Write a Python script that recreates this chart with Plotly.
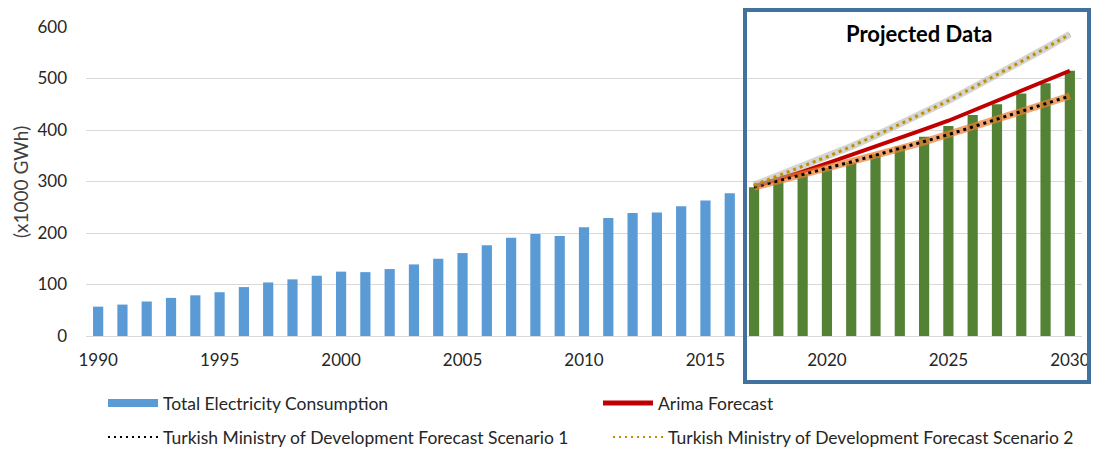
import plotly.graph_objects as go

# Historical consumption, 1990-2016 (x1000 GWh)
hist_years = list(range(1990, 2017))
hist_values = [57, 61, 67, 74, 79, 85, 95, 104, 110, 117, 125, 124, 130,
               139, 150, 161, 176, 191, 198, 194, 211, 229, 239, 240, 252, 263, 277]

# Projected period, 2017-2030
proj_years = list(range(2017, 2031))
proj_values = [289, 300, 315, 326, 337, 353, 368, 387, 408, 429, 450, 471, 491, 515]
arima_values = [290, 304, 319, 335, 351, 367, 384, 401, 418, 437, 457, 476, 495, 515]
scenario1_values = [289, 301, 313, 326, 338, 351, 364, 377, 391, 406, 421, 436, 451, 466]
scenario2_values = [293, 311, 329, 348, 368, 389, 411, 434, 457, 482, 507, 533, 559, 586]

x_ticks = [1990, 1995, 2000, 2005, 2010, 2015, 2020, 2025, 2030]

FONT = "Lato, Carlito, 'Open Sans', sans-serif"
BLUE = "#5B9BD5"
GREEN = "#548235"
RED = "#C00000"
GOLD = "#BF9000"
FRAME = "#41719C"
TEXT = "#262626"

fig = go.Figure()

fig.add_trace(go.Bar(x=hist_years, y=hist_values, marker_color=BLUE,
                     marker_line_width=0, width=0.42, showlegend=False))
fig.add_trace(go.Bar(x=proj_years, y=proj_values, marker_color=GREEN,
                     marker_line_width=0, width=0.42, showlegend=False))

fig.add_trace(go.Scatter(x=proj_years, y=arima_values, mode="lines",
                         line=dict(color=RED, width=4), showlegend=False))

# Scenario 1: black dots over a soft orange glow
fig.add_trace(go.Scatter(x=proj_years, y=scenario1_values, mode="lines",
                         line=dict(color="rgba(237,125,49,0.7)", width=7),
                         showlegend=False, hoverinfo="skip"))
fig.add_trace(go.Scatter(x=proj_years, y=scenario1_values, mode="lines",
                         line=dict(color="#000000", width=3, dash="3px,4px"),
                         showlegend=False))

# Scenario 2: gold dots over a soft grey glow
fig.add_trace(go.Scatter(x=proj_years, y=scenario2_values, mode="lines",
                         line=dict(color="rgba(160,160,150,0.45)", width=7),
                         showlegend=False, hoverinfo="skip"))
fig.add_trace(go.Scatter(x=proj_years, y=scenario2_values, mode="lines",
                         line=dict(color=GOLD, width=3, dash="3px,4px"),
                         showlegend=False))

# Legend entries, one legend box each so they sit in two aligned columns
fig.add_trace(go.Scatter(x=[None], y=[None], mode="lines", name="Total Electricity Consumption",
                         line=dict(color=BLUE, width=8), legend="legend"))
fig.add_trace(go.Scatter(x=[None], y=[None], mode="lines", name="Arima Forecast",
                         line=dict(color=RED, width=5), legend="legend2"))
fig.add_trace(go.Scatter(x=[None], y=[None], mode="lines",
                         name="Turkish Ministry of Development Forecast Scenario 1",
                         line=dict(color="#000000", width=2, dash="2px,4px"), legend="legend3"))
fig.add_trace(go.Scatter(x=[None], y=[None], mode="lines",
                         name="Turkish Ministry of Development Forecast Scenario 2",
                         line=dict(color=GOLD, width=2, dash="2px,4px"), legend="legend4"))

W, H = 1095, 453
legend_font = dict(family=FONT, size=17.5, color=TEXT)


def legend_at(px, py):
    return dict(x=px / W, y=1 - py / H, xref="container", yref="container",
                xanchor="left", yanchor="middle", font=legend_font,
                bgcolor="rgba(0,0,0,0)", borderwidth=0, itemwidth=50)


PL, PR, PT, PB = 86, 13, 27, 117
pw, ph = W - PL - PR, H - PT - PB


def px_x(x):
    return (x - PL) / pw


def px_y(y):
    return (H - PB - y) / ph


fig.update_layout(
    width=W, height=H,
    margin=dict(l=PL, r=PR, t=PT, b=PB, autoexpand=False),
    paper_bgcolor="white", plot_bgcolor="white",
    barmode="overlay",
    font=dict(family=FONT, size=17, color=TEXT),
    xaxis=dict(range=[1989.5, 2030.5], tickvals=x_ticks, showgrid=False,
               showline=True, linecolor="#D9D9D9", linewidth=1, ticks="",
               zeroline=False, tickangle=0, automargin=False, ticklabelstandoff=9,
               tickfont=dict(size=17, color=TEXT)),
    yaxis=dict(range=[0, 600], dtick=100, showgrid=True, gridcolor="#D9D9D9",
               gridwidth=1, zeroline=False, ticks="", ticklabelstandoff=18,
               automargin=False, tickfont=dict(size=17, color=TEXT)),
    legend=legend_at(103, 403),
    legend2=legend_at(598, 403),
    legend3=legend_at(103, 437),
    legend4=legend_at(608, 437),
    annotations=[
        dict(text="(x1000 GWh)", x=px_x(21), y=px_y(182), xref="paper", yref="paper",
             xanchor="center", yanchor="middle", showarrow=False, textangle=-90,
             font=dict(family=FONT, size=19, color="#404040")),
        dict(text="<b>Projected Data</b>", x=px_x(919), y=px_y(33),
             xref="paper", yref="paper", xanchor="center", yanchor="middle",
             showarrow=False, font=dict(family=FONT, size=22, color="#000000")),
    ],
    shapes=[
        dict(type="rect", xref="paper", yref="paper",
             x0=px_x(745), x1=px_x(1089), y0=px_y(382), y1=px_y(10),
             line=dict(color=FRAME, width=4), fillcolor="rgba(0,0,0,0)", layer="above"),
    ],
)

fig.write_html("out.html")
